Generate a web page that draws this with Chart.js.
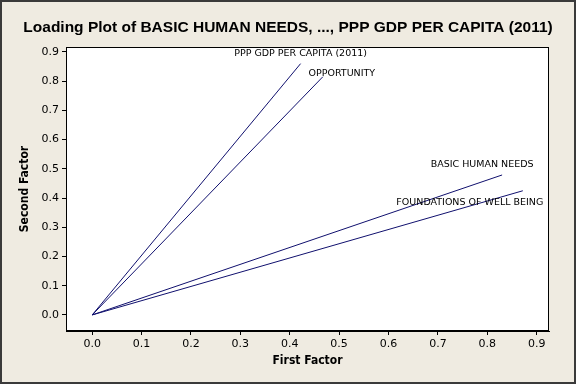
<!DOCTYPE html>
<html>
<head>
<meta charset="utf-8">
<script src="https://cdn.jsdelivr.net/npm/chart.js@4/dist/chart.umd.min.js"></script>
<style>
html,body{margin:0;padding:0;background:#EFEBE1;}
#wrap{width:576px;height:384px;position:relative;}
</style>
</head>
<body>
<div id="wrap"><canvas id="c" width="576" height="384"></canvas></div>
<script>
// ---- data ----
const variables = ["BASIC HUMAN NEEDS", "FOUNDATIONS OF WELL BEING", "OPPORTUNITY", "PPP GDP PER CAPITA (2011)"];
const firstFactor = [0.830, 0.872, 0.467, 0.422];
const secondFactor = [0.479, 0.425, 0.815, 0.860];
const xTickValues = [0.0, 0.1, 0.2, 0.3, 0.4, 0.5, 0.6, 0.7, 0.8, 0.9];
const yTickValues = [0.0, 0.1, 0.2, 0.3, 0.4, 0.5, 0.6, 0.7, 0.8, 0.9];
const titleText = "Loading Plot of BASIC HUMAN NEEDS, ..., PPP GDP PER CAPITA (2011)";
const xTitle = "First Factor";
const yTitle = "Second Factor";

// label offsets (pixels) relative to the loading endpoint: style only
const labelOffsets = [[-20, -10], [-53, 12], [19, -3], [0, -10]];

const lineColor = "#10106E";
const datasets = variables.map((v, i) => ({
  label: v,
  data: [{x: 0, y: 0}, {x: firstFactor[i], y: secondFactor[i]}],
  showLine: true,
  borderColor: lineColor,
  borderWidth: 1,
  pointRadius: 0,
  fill: false
}));

const frame = {
  id: 'frame',
  beforeDraw(chart) {
    const {ctx, chartArea: a} = chart;
    ctx.save();
    ctx.fillStyle = '#EFEBE1';
    ctx.fillRect(0, 0, chart.width, chart.height);
    ctx.fillStyle = '#FFFFFF';
    ctx.fillRect(a.left, a.top, a.right - a.left, a.bottom - a.top);
    ctx.restore();
  },
  afterDraw(chart) {
    const {ctx, chartArea: a, scales} = chart;
    ctx.save();
    // plot frame
    ctx.strokeStyle = '#000';
    ctx.lineWidth = 1;
    ctx.strokeRect(Math.round(a.left) + 0.5, Math.round(a.top) + 0.5,
                   Math.round(a.right - a.left) - 1, Math.round(a.bottom - a.top) - 1);
    // outer border
    ctx.strokeStyle = '#3A3A3A';
    ctx.lineWidth = 2;
    ctx.strokeRect(1, 1, chart.width - 2, chart.height - 2);
    // title
    ctx.fillStyle = '#000';
    ctx.textAlign = 'center';
    ctx.textBaseline = 'middle';
    ctx.font = 'bold 15.5px "Liberation Sans", Arial, sans-serif';
    ctx.fillText(titleText, 288, 28);
    // axis titles
    ctx.font = 'bold 12px "DejaVu Sans Condensed", "DejaVu Sans", sans-serif';
    ctx.fillText(xTitle, (a.left + a.right) / 2, 361);
    ctx.save();
    ctx.translate(25, (a.top + a.bottom) / 2);
    ctx.rotate(-Math.PI / 2);
    ctx.fillText(yTitle, 0, 0);
    ctx.restore();
    // variable labels
    ctx.font = '9.5px "DejaVu Sans", sans-serif';
    ctx.fillStyle = '#000';
    variables.forEach((v, i) => {
      const px = scales.x.getPixelForValue(firstFactor[i]) + labelOffsets[i][0];
      const py = scales.y.getPixelForValue(secondFactor[i]) + labelOffsets[i][1];
      ctx.fillText(v, px, py);
    });
    ctx.restore();
  }
};

new Chart(document.getElementById('c'), {
  type: 'scatter',
  data: {datasets},
  options: {
    responsive: false,
    animation: false,
    devicePixelRatio: 1,
    layout: {padding: {top: 47, right: 27, left: 0, bottom: 0}},
    plugins: {legend: {display: false}, tooltip: {enabled: false}},
    scales: {
      x: {
        type: 'linear',
        min: -0.053, max: 0.925,
        afterBuildTicks: s => { s.ticks = xTickValues.map(v => ({value: v})); },
        afterFit: s => { s.height = 53; },
        grid: {drawOnChartArea: false, drawTicks: true, tickLength: 4, color: '#000', lineWidth: 1},
        border: {display: true, color: '#000'},
        ticks: {color: '#000', padding: 3, maxRotation: 0, autoSkip: false,
                font: {family: '"DejaVu Sans", sans-serif', size: 11},
                callback: v => Number(v).toFixed(1)}
      },
      y: {
        type: 'linear',
        min: -0.055, max: 0.917,
        afterBuildTicks: s => { s.ticks = yTickValues.map(v => ({value: v})); },
        afterFit: s => { s.width = 66; },
        grid: {drawOnChartArea: false, drawTicks: true, tickLength: 4, color: '#000', lineWidth: 1},
        border: {display: true, color: '#000'},
        ticks: {color: '#000', padding: 3, autoSkip: false,
                font: {family: '"DejaVu Sans", sans-serif', size: 11},
                callback: v => Number(v).toFixed(1)}
      }
    }
  },
  plugins: [frame]
});
</script>
</body>
</html>
